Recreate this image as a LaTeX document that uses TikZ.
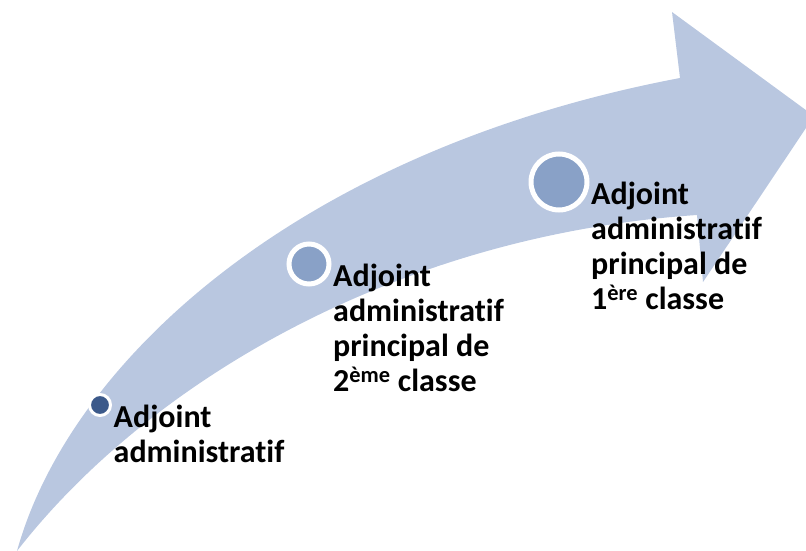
\documentclass[tikz,border=0pt]{standalone}
\usepackage{fontspec}
\setmainfont{Carlito}[Ligatures=NoCommon]
\usetikzlibrary{positioning}
\definecolor{bandblue}{RGB}{185,199,224}
\definecolor{dotdark}{RGB}{59,89,138}
\definecolor{dotmid}{RGB}{137,161,199}

\begin{document}
\begin{tikzpicture}[x=1pt,y=-1pt,node distance=1.5pt]
	\tikzset{
		mydot/.style={circle, draw=white, inner sep=0pt},
		mylabel/.style={anchor=north west, inner sep=0pt, align=left, text=black, font=\fontsize{32}{35}\selectfont\bfseries}
	}
	\useasboundingbox (0,0) rectangle (806,551);
	\clip (0,0) rectangle (806,551);
	\fill[bandblue] (17,551) .. controls (150,380) and (400,235) .. (697,215) -- (703,282) -- (814,116) -- (672,12) -- (680,78) .. controls (300,150) and (70,360) .. (17,551) -- cycle;
	\node[mydot, fill=dotdark, line width=3pt, minimum size=21pt] (dot1) at (100,405) {};
	\node[mydot, fill=dotmid, line width=5pt, minimum size=40pt] (dot2) at (309,264) {};
	\node[mydot, fill=dotmid, line width=5pt, minimum size=56pt] (dot3) at (559,182) {};
	\node[right=of dot1.east, mylabel] (lab1) {Adjoint\\administratif};
	\node[right=of dot2.east, mylabel] (lab2) {Adjoint\\administratif\\principal de\\2\textsuperscript{ème} classe};
	\node[right=of dot3.east, mylabel] (lab3) {Adjoint\\administratif\\principal de\\1\textsuperscript{ère} classe};
\end{tikzpicture}
\end{document}
